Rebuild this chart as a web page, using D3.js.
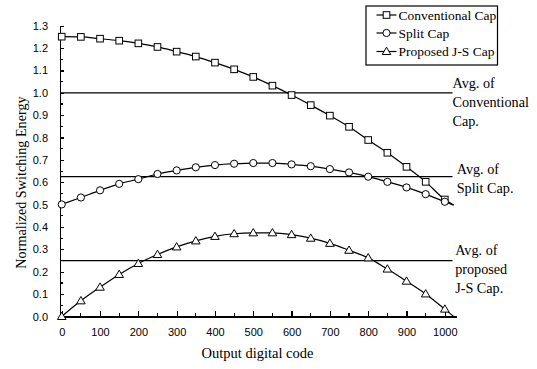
<!DOCTYPE html>
<meta charset="utf-8">
<style>
body { margin: 0; background: #fff; }
.axis path, .axis line { stroke: #000; stroke-width: 1.2; shape-rendering: crispEdges; }
.axis text { font-family: "Liberation Sans", Arial, sans-serif; font-size: 11px; fill: #000; }
.lbl { font-family: "Liberation Serif", "Times New Roman", serif; font-size: 14.2px; fill: #000; }
.leg { font-family: "Liberation Serif", "Times New Roman", serif; font-size: 13.5px; fill: #000; }
</style>
<body>
<svg width="537" height="369"></svg>
<script src="https://d3js.org/d3.v7.min.js"></script>
<script>

// output code (markers every 50, line continues to 1023)
var codes = [0,50,100,150,200,250,300,350,400,450,500,550,600,650,700,750,800,850,900,950,1000,1023];

var conventional = [1.251,1.250,1.242,1.233,1.221,1.205,1.184,1.162,1.135,1.105,1.071,1.032,0.990,0.945,0.898,0.848,0.789,0.732,0.669,0.602,0.523,0.498];
var splitCap     = [0.501,0.532,0.564,0.593,0.614,0.637,0.653,0.667,0.677,0.683,0.686,0.686,0.680,0.672,0.659,0.644,0.625,0.602,0.577,0.547,0.513,0.498];
var proposedJS   = [0.000,0.070,0.131,0.188,0.237,0.277,0.311,0.338,0.358,0.370,0.374,0.374,0.366,0.350,0.327,0.296,0.262,0.212,0.158,0.101,0.033,0.000];

var averages = [1.0, 0.625, 0.25];
var avgLabels = [["Avg. of","Conventional","Cap."], ["Avg. of","Split Cap."], ["Avg. of","proposed","J-S Cap."]];

var seriesNames = ["Conventional Cap", "Split Cap", "Proposed J-S Cap"];
var markerTypes = ["square", "circle", "triangle"];

var xTicks = [0,100,200,300,400,500,600,700,800,900,1000];
var yTicks = [0,0.1,0.2,0.3,0.4,0.5,0.6,0.7,0.8,0.9,1.0,1.1,1.2,1.3];

var svg = d3.select("svg");

var x = d3.scaleLinear().domain([-4.5, 1031]).range([60, 456.7]);
var y = d3.scaleLinear().domain([0, 1.3]).range([316.5, 25.7]);

// minor ticks
var xMinor = d3.range(50, 1001, 100);
var yMinor = d3.range(0.05, 1.3, 0.1);

var gx = svg.append("g").attr("class","axis")
	.attr("transform","translate(0," + y(0) + ")")
	.call(d3.axisBottom(x).tickValues(xTicks).tickSize(-6).tickSizeOuter(0).tickPadding(12).tickFormat(d3.format("d")));

gx.selectAll(".minor").data(xMinor).enter().append("line")
	.attr("class","minor")
	.attr("x1", x).attr("x2", x)
	.attr("y1", 0).attr("y2", -3.5);

var gy = svg.append("g").attr("class","axis")
	.attr("transform","translate(60,0)")
	.call(d3.axisLeft(y).tickValues(yTicks).tickSize(-4).tickSizeOuter(0).tickPadding(12).tickFormat(d3.format(".1f")));

gy.selectAll(".minor").data(yMinor).enter().append("line")
	.attr("class","minor")
	.attr("y1", y).attr("y2", y)
	.attr("x1", 0).attr("x2", 3);

// average lines
svg.selectAll(".avg").data(averages).enter().append("line")
	.attr("class","avg")
	.attr("x1", 60).attr("x2", x(1020))
	.attr("y1", y).attr("y2", y)
	.style("stroke","#000").style("stroke-width",1.2);

var avgY0 = [y(1.0) - 9, y(0.625) - 7, y(0.25) - 10];
var avgX = [x(1020), x(1031), x(1027)];
avgLabels.forEach(function(lines, i){
	var t = svg.append("text").attr("class","lbl")
		.attr("x", avgX[i]).attr("y", avgY0[i] + 4.5);
	lines.forEach(function(s, j){
		t.append("tspan").attr("x", avgX[i]).attr("dy", j == 0 ? 0 : 18.8).text(s);
	});
});

var line = d3.line()
	.x(function(d){ return x(d[0]); })
	.y(function(d){ return y(d[1]); })
	.curve(d3.curveMonotoneX);

function marker(g, type, cx, cy) {
	if (type == "square") {
		g.append("rect").attr("x", cx-3.3).attr("y", cy-3.3).attr("width", 6.6).attr("height", 6.6)
			.style("fill","#fff").style("stroke","#000").style("stroke-width",1);
	} else if (type == "circle") {
		g.append("circle").attr("cx", cx).attr("cy", cy).attr("r", 3.6)
			.style("fill","#fff").style("stroke","#000").style("stroke-width",1);
	} else {
		g.append("path").attr("d", "M" + cx + "," + (cy-4.3) + "L" + (cx+4.3) + "," + (cy+3) + "L" + (cx-4.3) + "," + (cy+3) + "Z")
			.style("fill","#fff").style("stroke","#000").style("stroke-width",1);
	}
}

[conventional, splitCap, proposedJS].forEach(function(vals, i){
	var pts = codes.map(function(c, k){ return [c, vals[k]]; });
	svg.append("path").attr("d", line(pts))
		.style("fill","none").style("stroke","#000").style("stroke-width",1.2);
	var g = svg.append("g");
	pts.forEach(function(p){
		if (p[0] % 50 == 0) marker(g, markerTypes[i], x(p[0]), y(p[1]));
	});
});

// legend
svg.append("rect").attr("x", 366).attr("y", 6).attr("width", 131.5).attr("height", 59)
	.style("fill","#fff").style("stroke","#000").style("stroke-width",1.2);
var legY = [15, 33, 51.5];
seriesNames.forEach(function(name, i){
	svg.append("line").attr("x1", 376.5).attr("x2", 396.5).attr("y1", legY[i]).attr("y2", legY[i])
		.style("stroke","#000").style("stroke-width",1.2);
	marker(svg, markerTypes[i], 386.5, legY[i]);
	svg.append("text").attr("class","leg").attr("x", 398.5).attr("y", legY[i] + 4.5).text(name);
});

// axis titles
svg.append("text").attr("class","lbl")
	.style("font-size","14.5px")
	.attr("x", 257.5).attr("y", 358).attr("text-anchor","middle")
	.text("Output digital code");

svg.append("text").attr("class","lbl")
	.attr("transform","translate(26,182.5) rotate(-90)").attr("text-anchor","middle")
	.text("Normalized Switching Energy");

</script>
</body>
</html>
